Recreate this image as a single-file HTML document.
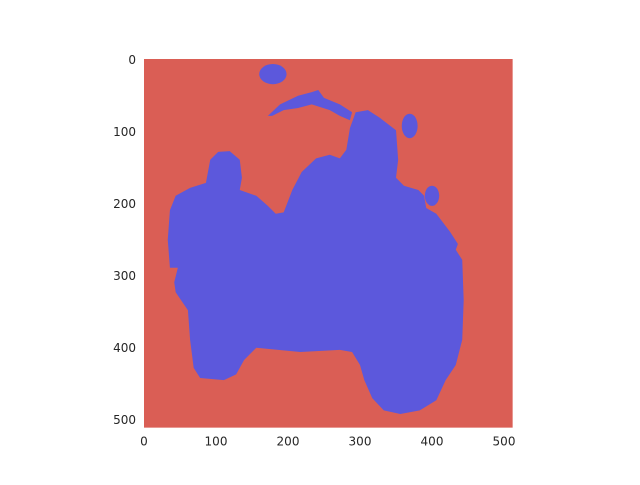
<!DOCTYPE html>
<html><head><meta charset="utf-8"><style>
body{margin:0;background:#fff;}
text{font-family:"DejaVu Sans","Liberation Sans",sans-serif;font-size:12px;fill:#262626;}
</style></head><body>
<svg id="chart" width="640" height="480" xmlns="http://www.w3.org/2000/svg"></svg>
<script>
const imgSize = [512, 512];
const xTicks = [0, 100, 200, 300, 400, 500];
const yTicks = [0, 100, 200, 300, 400, 500];
const bodyPoly = [[36,210],[44,190],[64,179],[86,172],[92,140],[103,129],[119,128],[133,140],[136,165],[133,182],[156,190],[172,204],[183,215],[194,213],[206,182],[219,157],[239,138],[258,133],[272,138],[281,126],[286,96],[294,74],[311,71],[328,82],[350,99],[353,140],[350,165],[361,176],[381,182],[389,190],[392,207],[406,215],[425,240],[436,257],[433,265],[442,279],[444,335],[442,390],[433,425],[419,446],[406,474],[383,488],[356,493],[333,488],[317,471],[306,446],[300,425],[289,407],[272,404],[217,407],[156,401],[139,418],[128,438],[111,446],[78,443],[69,429],[64,390],[61,349],[44,324],[42,310],[47,290],[36,290],[33,251]];
const handlePoly = [[172,79],[189,63],[214,51],[233,46],[242,43],[250,54],[272,63],[289,74],[286,85],[272,79],[258,71],[233,63],[214,68],[194,71],[178,79]];
const stripPoly = [[328,203],[333,203],[325,249],[317,249]];
const blobs = [[179,21,19,14],[369,93,11,17],[400,190,10,14]];

const X0=144, Y0=59, S=0.72;
const sx = v => X0 + v*S;
const sy = v => Y0 + v*S;
const NS="http://www.w3.org/2000/svg";
const svg=document.getElementById('chart');
function mk(t,a){const e=document.createElementNS(NS,t);for(const k in a)e.setAttribute(k,a[k]);svg.appendChild(e);return e;}

const bg=mk('rect',{x:sx(0),y:sy(0),width:imgSize[0]*S,height:imgSize[1]*S,fill:'#da5e55'});


const blue='#5c58dc';
[[bodyPoly,'rider-motorbike-mask'],[handlePoly,'handlebar-mask'],[stripPoly,'fork-strip-mask']].forEach(([p,n])=>{
  const e=mk('polygon',{points:p.map(q=>sx(q[0])+','+sy(q[1])).join(' '),fill:blue});
  
  
});
blobs.forEach(b=>{
  const e=mk('ellipse',{cx:sx(b[0]),cy:sy(b[1]),rx:b[2]*S,ry:b[3]*S,fill:blue});
  
  
});
xTicks.forEach(t=>{
  const e=mk('text',{x:sx(t),y:sy(imgSize[1])+18,'text-anchor':'middle'});e.textContent=t;
  
  
});
yTicks.forEach(t=>{
  const e=mk('text',{x:sx(0)-8,y:sy(t)+5,'text-anchor':'end'});e.textContent=t;
  
  
});
</script>
</body></html>
